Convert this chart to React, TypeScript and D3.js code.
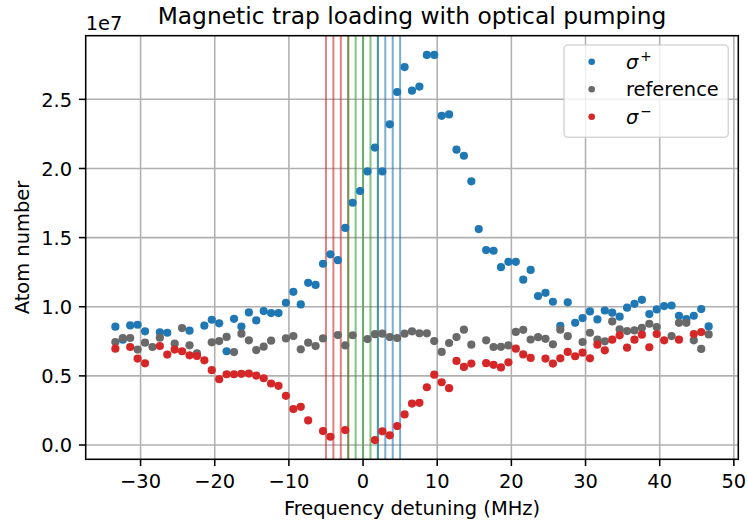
import React from 'react';
import * as d3 from 'd3';

const detuning = [-33.4,-32.4,-31.4,-30.4,-29.4,-28.4,-27.4,-26.4,-25.4,-24.4,-23.4,-22.4,-21.4,-20.4,-19.4,-18.4,-17.4,-16.4,-15.4,-14.4,-13.4,-12.4,-11.4,-10.4,-9.4,-8.4,-7.4,-6.4,-5.4,-4.4,-3.4,-2.4,-1.4,-0.4,0.6,1.6,2.6,3.6,4.6,5.6,6.6,7.6,8.6,9.6,10.6,11.6,12.6,13.6,14.6,15.6,16.6,17.6,18.6,19.6,20.6,21.6,22.6,23.6,24.6,25.6,26.6,27.6,28.6,29.6,30.6,31.6,32.6,33.6,34.6,35.6,36.6,37.6,38.6,39.6,40.6,41.6,42.6,43.6,44.6,45.6,46.6];

const sigmaPlus: (number | null)[] = [
  0.856, 0.762, 0.865, 0.870, 0.822, null, 0.815, 0.812, null, null,
  0.827, null, 0.863, 0.906, 0.880, 0.678, 0.913, 0.857, 0.959, 0.901,
  0.969, 0.954, 0.954, 1.029, 1.108, 1.017, 1.173, 1.158, 1.311, 1.379,
  1.337, 1.570, 1.752, 1.837, 1.979, 2.151, 1.979, 2.319, 2.553, 2.733,
  2.563, 2.592, 2.821, 2.821, 2.381, 2.391, 2.136, 2.092, 1.907, 1.562,
  1.410, 1.405, 1.286, 1.325, 1.325, 1.196, 1.266, 1.077, 1.101, 1.036,
  0.861, 1.032, 0.884, 0.918, 0.966, 0.908, 0.973, 0.957, 0.928, 0.993,
  1.021, 1.050, 0.947, 0.981, 1.005, 1.009, 0.935, 0.911, 0.935, 0.983, 0.858,
];

const reference: (number | null)[] = [
  0.745, 0.774, 0.774, 0.690, 0.740, 0.709, 0.776, null, 0.733, 0.846,
  0.721, 0.663, null, 0.743, 0.752, 0.782, 0.672, 0.805, 0.757, 0.687,
  0.711, 0.755, null, 0.771, 0.788, 0.692, 0.740, 0.716, 0.771, null,
  0.795, 0.720, 0.794, null, 0.766, 0.802, 0.805, 0.781, 0.774, 0.805,
  0.822, 0.808, 0.808, 0.752, 0.673, 0.738, 0.781, 0.834, 0.726, null,
  0.757, 0.709, 0.710, 0.720, 0.818, 0.833, 0.763, 0.780, 0.768, 0.728,
  0.834, 0.787, null, 0.745, 0.812, 0.762, 0.750, 0.894, 0.836, 0.824,
  0.829, 0.848, 0.877, 0.853, null, 0.788, 0.884, 0.884, 0.757, 0.695, 0.800,
];

const sigmaMinus: (number | null)[] = [
  0.697, null, 0.709, 0.625, 0.591, null, 0.716, 0.654, 0.690, 0.678,
  0.649, 0.644, 0.613, 0.541, 0.476, 0.512, 0.512, 0.515, 0.517, 0.502,
  0.483, 0.445, 0.428, 0.356, 0.260, 0.276, 0.178, null, 0.101, 0.060,
  null, 0.108, null, null, null, 0.036, 0.099, 0.070, 0.137, 0.221,
  0.300, 0.305, 0.418, 0.509, 0.454, 0.411, 0.608, 0.565, 0.589, null,
  0.592, 0.580, 0.561, 0.598, 0.697, 0.655, 0.630, null, 0.625, 0.589,
  0.627, 0.673, 0.642, 0.668, 0.627, 0.726, 0.685, 0.762, 0.793, 0.704,
  0.762, 0.798, 0.707, 0.803, 0.757, null, 0.762, null, 0.803, 0.817, null,
];

const redLines = [-5, -4, -3, -2];
const greenLines = [-2, -1, 0, 1, 2];
const blueLines = [2, 3, 4, 5];

const xTicks = [-30, -20, -10, 0, 10, 20, 30, 40, 50];
const yTicks = [0, 0.5, 1.0, 1.5, 2.0, 2.5];

const W = 748;
const H = 525;
const L = 85.7;
const R = 738.3;
const T = 35.7;
const B = 459.3;
const FONT = '"DejaVu Sans", sans-serif';
const FS = 19.44;

export default function App() {
  const [xmin, xmax] = d3.extent(detuning) as [number, number];
  const xpad = (xmax - xmin) * 0.05;
  const x = d3.scaleLinear().domain([xmin - xpad, xmax + xpad]).range([L, R]);
  const allVals = [...sigmaPlus, ...reference, ...sigmaMinus].filter((v) => v != null) as number[];
  const [ymin, ymax] = d3.extent(allVals) as [number, number];
  const ypad = (ymax - ymin) * 0.05;
  const y = d3.scaleLinear().domain([ymin - ypad, ymax + ypad]).range([B, T]);

  const fx = d3.format('d');
  const fy = d3.format('.1f');

  const series = [
    { key: 'plus', data: sigmaPlus, color: '#1f77b4' },
    { key: 'ref', data: reference, color: '#696969' },
    { key: 'minus', data: sigmaMinus, color: '#d62728' },
  ];

  const vlines = [
    { vals: redLines, color: '#d62728' },
    { vals: greenLines, color: '#2ca02c' },
    { vals: blueLines, color: '#1f77b4' },
  ];

  const legendX = 564;
  const legendY = 45;
  const legendW = 164.3;
  const legendH = 92.3;
  const rowY = [61.7, 89.3, 116.7];
  const markerX = 591.7;
  const textX = 626;

  return (
    <svg
      width={W}
      height={H}
      style={{ position: 'absolute', left: 0, top: 0, background: '#fff' }}
      fontFamily={FONT}
    >
      <rect x={0} y={0} width={W} height={H} fill="#fff" />
      {/* grid */}
      <g stroke="#b0b0b0" strokeWidth={1.56}>
        {xTicks.map((t) => (
          <line key={'gx' + t} x1={x(t)} x2={x(t)} y1={T} y2={B} />
        ))}
        {yTicks.map((t) => (
          <line key={'gy' + t} x1={L} x2={R} y1={y(t)} y2={y(t)} />
        ))}
      </g>
      {/* vertical lines */}
      {vlines.map((g, gi) => (
        <g key={'vl' + gi} stroke={g.color} strokeOpacity={0.6} strokeWidth={2}>
          {g.vals.map((v) => (
            <line key={v} x1={x(v)} x2={x(v)} y1={T} y2={B} />
          ))}
        </g>
      ))}
      {/* points */}
      {series.map((s) => (
        <g key={s.key} fill={s.color}>
          {s.data.map((v, i) =>
            v == null ? null : <circle key={i} cx={x(detuning[i])} cy={y(v)} r={4.1} />
          )}
        </g>
      ))}
      {/* spines */}
      <rect x={L} y={T} width={R - L} height={B - T} fill="none" stroke="#000" strokeWidth={1.56} />
      {/* x ticks */}
      <g>
        {xTicks.map((t) => (
          <g key={'xt' + t}>
            <line x1={x(t)} x2={x(t)} y1={B} y2={B + 6.8} stroke="#000" strokeWidth={1.56} />
            <text x={x(t)} y={487.7} textAnchor="middle" fontSize={FS} fill="#000">
              {fx(t)}
            </text>
          </g>
        ))}
      </g>
      {/* y ticks */}
      <g>
        {yTicks.map((t) => (
          <g key={'yt' + t}>
            <line x1={L - 6.8} x2={L} y1={y(t)} y2={y(t)} stroke="#000" strokeWidth={1.56} />
            <text x={72.1} y={y(t) + 7.4} textAnchor="end" fontSize={FS} fill="#000">
              {fy(t)}
            </text>
          </g>
        ))}
      </g>
      {/* offset text */}
      <text x={L} y={30} fontSize={FS} fill="#000">1e7</text>
      {/* title */}
      <text x={(L + R) / 2} y={24.3} textAnchor="middle" fontSize={23.33} fill="#000">
        Magnetic trap loading with optical pumping
      </text>
      {/* axis labels */}
      <text x={(L + R) / 2} y={515} textAnchor="middle" fontSize={FS} fill="#000">
        Frequency detuning (MHz)
      </text>
      <text
        transform={`translate(28.5,${(T + B) / 2}) rotate(-90)`}
        textAnchor="middle"
        fontSize={FS}
        fill="#000"
      >
        Atom number
      </text>
      {/* legend */}
      <rect
        x={legendX}
        y={legendY}
        width={legendW}
        height={legendH}
        rx={4}
        ry={4}
        fill="#fff"
        fillOpacity={0.8}
        stroke="#cccccc"
        strokeOpacity={0.8}
        strokeWidth={1.5}
      />
      {series.map((s, i) => (
        <circle key={'lm' + s.key} cx={markerX} cy={rowY[i]} r={3.3} fill={s.color} />
      ))}
      <text x={textX} y={rowY[0] + 6.9} fontSize={FS} fill="#000">
        <tspan fontStyle="italic">σ</tspan>
        <tspan dx={2} dy={-7.5} fontSize={13.6}>+</tspan>
      </text>
      <text x={textX} y={rowY[1] + 7} fontSize={FS} fill="#000">
        reference
      </text>
      <text x={textX} y={rowY[2] + 7} fontSize={FS} fill="#000">
        <tspan fontStyle="italic">σ</tspan>
        <tspan dx={2} dy={-7.5} fontSize={13.6}>−</tspan>
      </text>
    </svg>
  );
}
